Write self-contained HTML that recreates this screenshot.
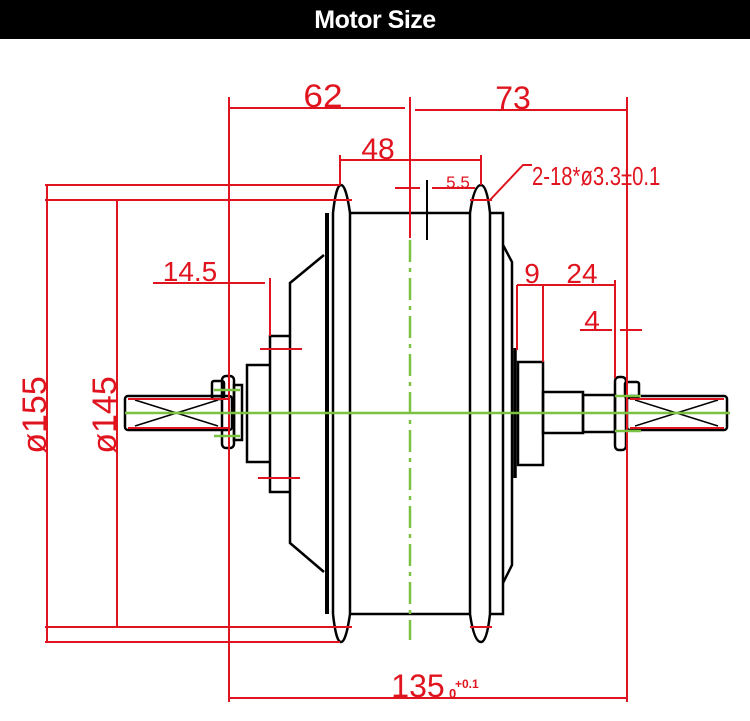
<!DOCTYPE html>
<html><head><meta charset="utf-8"><style>
html,body{margin:0;padding:0;background:#fff;width:750px;height:721px;overflow:hidden}
.hdr{position:absolute;left:0;top:0;width:750px;height:39px;background:#000;color:#fff;font:bold 25px "Liberation Sans",sans-serif;text-align:center;line-height:40px;letter-spacing:-0.5px}
svg{position:absolute;left:0;top:0}
</style></head><body>
<div class="hdr">Motor Size</div>
<svg width="750" height="721" viewBox="0 0 750 721" xmlns="http://www.w3.org/2000/svg">
<g fill="none" stroke="#000" stroke-width="2.5">
<!-- left flange -->
<line x1="327" y1="213" x2="327" y2="614" stroke-width="4"/>
<line x1="333" y1="213" x2="333" y2="614"/>
<path d="M333 213 Q336 185 341 185 Q346 185 350 213"/>
<path d="M333 614 Q336 642 341 642 Q346 642 350 614"/>
<line x1="350" y1="213" x2="350" y2="614"/>
<line x1="350" y1="213" x2="470" y2="213"/>
<line x1="350" y1="614" x2="470" y2="614"/>
<line x1="470" y1="213" x2="470" y2="614"/>
<path d="M470 213 Q474 185 481 185 Q487 185 490 213"/>
<path d="M470 614 Q474 642 481 642 Q487 642 490 614"/>
<line x1="490" y1="213" x2="490" y2="614"/>
<polyline points="490,213 503,213 503,614 490,614"/>
<polyline points="503,245 512,262 512,565 503,583"/>
<line x1="515" y1="348" x2="515" y2="478" stroke-width="3.5"/>
<!-- left hub -->
<polyline points="324,255 290,283 290,543 324,572"/>
<polyline points="290,336 270,336 270,492 290,492"/>
<polyline points="270,365 247,365 247,462 270,462"/>
<!-- right hub -->
<rect x="518" y="362" width="25" height="103"/>
<rect x="543" y="392" width="40" height="41"/>
<rect x="583" y="395" width="32" height="37"/>
<!-- left shaft -->
<rect x="125" y="396" width="107" height="34" rx="3"/>
<line x1="135" y1="400" x2="218" y2="426" stroke-width="1.5"/>
<line x1="135" y1="426" x2="218" y2="400" stroke-width="1.5"/>
<rect x="222" y="376" width="12" height="72" rx="4"/>
<rect x="212" y="381" width="12" height="18" rx="2"/>
<rect x="234" y="385" width="8" height="55"/>
<!-- right shaft -->
<rect x="627" y="396" width="100" height="34" rx="3"/>
<line x1="635" y1="400" x2="718" y2="426" stroke-width="1.5"/>
<line x1="635" y1="426" x2="718" y2="400" stroke-width="1.5"/>
<rect x="615" y="377" width="11" height="73" rx="4"/>
<rect x="625" y="382" width="14" height="16" rx="2"/>
</g>
<g stroke="#e0141e" stroke-width="2" fill="none">
<line x1="229" y1="97" x2="229" y2="702"/>
<line x1="627" y1="97" x2="627" y2="702"/>
<line x1="410" y1="97" x2="410" y2="238"/>
<line x1="229" y1="108" x2="405" y2="108"/>
<line x1="415" y1="110" x2="627" y2="110"/>
<line x1="229" y1="698" x2="627" y2="698"/>
<line x1="340" y1="160" x2="481" y2="160"/>
<line x1="340" y1="155" x2="340" y2="185"/>
<line x1="481" y1="155" x2="481" y2="185"/>
<line x1="395" y1="188" x2="420" y2="188"/>
<line x1="432" y1="188" x2="475" y2="188"/>
<line x1="427" y1="180" x2="427" y2="240" stroke="#000"/>
<line x1="45" y1="185" x2="340" y2="185"/>
<line x1="45" y1="200" x2="352" y2="200"/>
<line x1="45" y1="627" x2="352" y2="627"/>
<line x1="45" y1="642" x2="340" y2="642"/>
<line x1="47" y1="185" x2="47" y2="642"/>
<line x1="117" y1="200" x2="117" y2="627"/>
<line x1="470" y1="200" x2="492" y2="200"/>
<line x1="470" y1="627" x2="492" y2="627"/>
<polyline points="490,200 523,165 532,165"/>
<line x1="153" y1="283" x2="265" y2="283"/>
<line x1="270" y1="278" x2="270" y2="336"/>
<line x1="260" y1="349" x2="302" y2="349"/>
<line x1="258" y1="478" x2="300" y2="478"/>
<line x1="517" y1="285" x2="517" y2="350"/>
<line x1="543" y1="285" x2="543" y2="362"/>
<line x1="517" y1="285" x2="614" y2="285"/>
<line x1="615" y1="280" x2="615" y2="378"/>
<line x1="620" y1="330" x2="642" y2="330"/>
<line x1="580" y1="330" x2="612" y2="330"/>
<line x1="627" y1="450" x2="627" y2="460"/>
<line x1="128" y1="399" x2="230" y2="399"/>
<line x1="128" y1="428" x2="230" y2="428"/>
<line x1="630" y1="399" x2="724" y2="399"/>
<line x1="630" y1="428" x2="724" y2="428"/>
</g>
<g stroke="#7cc242" stroke-width="2.5" fill="none">
<line x1="125" y1="413" x2="730" y2="413"/>
<line x1="410" y1="240" x2="410" y2="640" stroke-dasharray="22,6,4,6"/>
<line x1="214" y1="390" x2="240" y2="390"/>
<line x1="214" y1="436" x2="240" y2="436"/>
<line x1="615" y1="396" x2="641" y2="396"/>
<line x1="615" y1="431" x2="641" y2="431"/>
</g>
<g fill="#e0141e" font-family="Liberation Sans, sans-serif">
<text x="323" y="107" font-size="32" text-anchor="middle" transform="translate(323 0) scale(1.1 1) translate(-323 0)">62</text>
<text x="513" y="109" font-size="32" text-anchor="middle">73</text>
<text x="378" y="159" font-size="30" text-anchor="middle">48</text>
<text x="458" y="188" font-size="17" text-anchor="middle">5.5</text>
<text x="190" y="281" font-size="28" text-anchor="middle">14.5</text>
<text x="532" y="185" font-size="26" transform="translate(532 0) scale(0.78 1) translate(-532 0)">2-18*ø3.3±0.1</text>
<text x="532" y="283" font-size="28" text-anchor="middle">9</text>
<text x="582" y="283" font-size="28" text-anchor="middle">24</text>
<text x="592" y="330" font-size="28" text-anchor="middle">4</text>
<text x="418" y="697" font-size="32" text-anchor="middle">135</text>
<text x="455" y="688" font-size="12" font-weight="bold">+0.1</text>
<text x="449" y="698" font-size="13" font-weight="bold">0</text>
<text font-size="34" text-anchor="middle" transform="translate(46 415) rotate(-90)">ø155</text>
<text font-size="34" text-anchor="middle" transform="translate(116 415) rotate(-90)">ø145</text>
</g>
</svg>
</body></html>
